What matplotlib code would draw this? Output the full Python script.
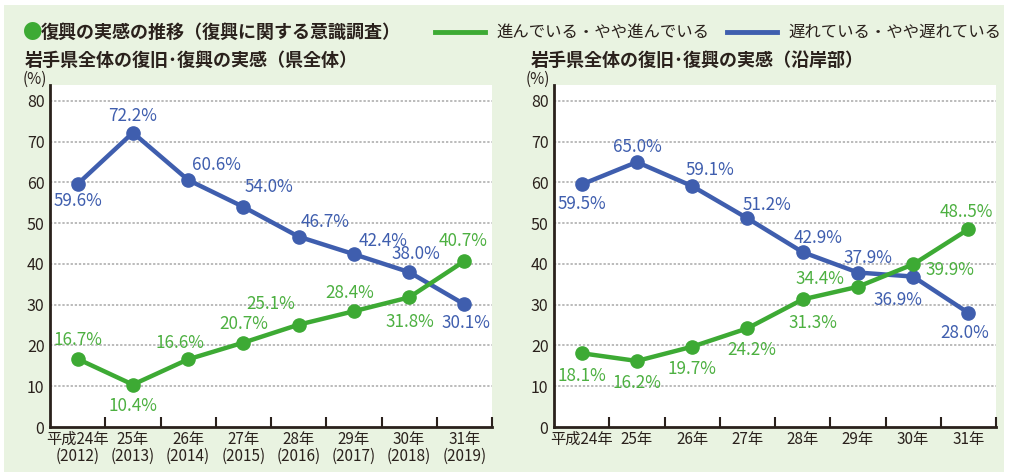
import matplotlib
matplotlib.use("Agg")
import matplotlib.pyplot as plt
from matplotlib.patches import Rectangle
from matplotlib.lines import Line2D

plt.rcParams['font.family'] = ['Noto Sans CJK JP', 'DejaVu Sans']

# ---------------- data ----------------
years_jp = ["平成24年", "25年", "26年", "27年", "28年", "29年", "30年", "31年"]
years_ad = ["(2012)", "(2013)", "(2014)", "(2015)", "(2016)", "(2017)", "(2018)", "(2019)"]

pref_progress = [16.7, 10.4, 16.6, 20.7, 25.1, 28.4, 31.8, 40.7]
pref_delayed = [59.6, 72.2, 60.6, 54.0, 46.7, 42.4, 38.0, 30.1]
coast_progress = [18.1, 16.2, 19.7, 24.2, 31.3, 34.4, 39.9, 48.5]
coast_delayed = [59.5, 65.0, 59.1, 51.2, 42.9, 37.9, 36.9, 28.0]
coast_progress_labels = ["18.1%", "16.2%", "19.7%", "24.2%", "31.3%", "34.4%", "39.9%", "48..5%"]

main_title = "復興の実感の推移（復興に関する意識調査）"
sub_left = "岩手県全体の復旧･復興の実感（県全体）"
sub_right = "岩手県全体の復旧･復興の実感（沿岸部）"
legend_progress = "進んでいる・やや進んでいる"
legend_delayed = "遅れている・やや遅れている"
unit_label = "(%)"

# ---------------- style ----------------
GREEN = "#3daa34"
GREEN_TXT = "#4db041"
BLUE = "#3f5eae"
DARK = "#2a211c"
BG = "#e9f3e1"
GRID = "#a8a8a8"

# label offsets (pixels)
off_pref_prog = [(0, 19), (0, -21), (-8, 16), (0, 19), (-28, 21), (-4, 18), (1, -25), (-1, 20)]
off_pref_del = [(0, -17), (0, 17), (28, 15), (26, 20), (26, 15), (29, 13), (7, 18), (2, -19)]
off_coast_prog = [(0, -23), (0, -22), (0, -22), (4, -22), (10, -24), (-38, 8), (37, -6), (-2, 17)]
off_coast_del = [(0, -20), (0, 15), (18, 16), (20, 13), (15, 14), (10, 15), (-15, -23), (-4, -20)]

W, H = 1010, 472
fig = plt.figure(figsize=(W / 100, H / 100), dpi=100)
fig.patch.set_facecolor("white")
fig.add_artist(Rectangle((4 / W, 0), 1000 / W, 1 - 5 / H, transform=fig.transFigure,
                         facecolor=BG, edgecolor="none", zorder=-10))


def px(x, y):
    return x / W, 1 - y / H


def draw_chart(left_px, prog, dele, prog_labels, off_p, off_d, two_line):
    ax = fig.add_axes([left_px / W, 1 - 427 / H, 442 / W, (427 - 85) / H])
    ax.set_facecolor("white")
    n = len(prog)
    xs = list(range(n))
    ax.set_xlim(-0.5, n - 0.5)
    ax.set_ylim(0, 83.9)
    for s in ["top", "right"]:
        ax.spines[s].set_visible(False)
    for s in ["left", "bottom"]:
        ax.spines[s].set_color(DARK)
        ax.spines[s].set_linewidth(2)
        ax.spines[s].set_zorder(5)
    ax.set_yticks(range(0, 81, 10))
    ax.tick_params(axis="y", length=0, pad=4, labelsize=11.5, labelcolor=DARK)
    for yv in range(10, 81, 10):
        ax.axhline(yv, color=GRID, lw=1.1, ls=(0, (1.5, 1.2)), zorder=1)
    # boundary ticks
    ax.set_xticks([i + 0.5 for i in range(n)], minor=False)
    ax.set_xticklabels([])
    ax.tick_params(axis="x", which="major", direction="in", length=7, width=1.5, color=DARK)
    ax.set_xticks(xs, minor=True)
    if two_line:
        labs = [f"{a}\n{b}" for a, b in zip(years_jp, years_ad)]
    else:
        labs = years_jp
    ax.set_xticklabels(labs, minor=True, linespacing=1.0)
    ax.tick_params(axis="x", which="minor", length=0, pad=3, labelsize=11, labelcolor=DARK)
    for t in ax.xaxis.get_minorticklabels():
        t.set_verticalalignment("top")
    ax.plot(xs, dele, color=BLUE, lw=3.2, marker="o", ms=9.5, zorder=3, clip_on=False)
    ax.plot(xs, prog, color=GREEN, lw=3.2, marker="o", ms=9.5, zorder=3, clip_on=False)
    for x, v, lab, o in zip(xs, prog, prog_labels, off_p):
        ax.annotate(lab, (x, v), xytext=o, textcoords="offset pixels", ha="center",
                    va="center", color=GREEN_TXT, fontsize=12.3, zorder=6)
    for x, v, o in zip(xs, dele, off_d):
        ax.annotate(f"{v:.1f}%", (x, v), xytext=o, textcoords="offset pixels", ha="center",
                    va="center", color=BLUE, fontsize=12.3, zorder=6)
    return ax


draw_chart(50, pref_progress, pref_delayed, [f"{v:.1f}%" for v in pref_progress],
           off_pref_prog, off_pref_del, True)
draw_chart(554, coast_progress, coast_delayed, coast_progress_labels,
           off_coast_prog, off_coast_del, False)

# title
fig.text(*px(23, 32), "●", color=GREEN, fontsize=14, fontweight="bold", va="center")
fig.text(*px(41, 32), main_title, color=DARK, fontsize=13, fontweight="bold", va="center")
fig.text(*px(25, 60), sub_left, color=DARK, fontsize=13, fontweight="bold", va="center")
fig.text(*px(531, 60), sub_right, color=DARK, fontsize=13, fontweight="bold", va="center")
fig.text(*px(23, 79), unit_label, color=DARK, fontsize=11, va="center")
fig.text(*px(526, 79), unit_label, color=DARK, fontsize=11, va="center")

# legend
fig.add_artist(Line2D([435 / W, 485 / W], [1 - 32 / H] * 2, color=GREEN, lw=3.5, transform=fig.transFigure))
fig.text(*px(496, 32), legend_progress, color=DARK, fontsize=11.8, va="center")
fig.add_artist(Line2D([727 / W, 777 / W], [1 - 32 / H] * 2, color=BLUE, lw=3.5, transform=fig.transFigure))
fig.text(*px(788, 32), legend_delayed, color=DARK, fontsize=11.8, va="center")

fig.savefig("out.png", dpi=100, facecolor=fig.get_facecolor())
